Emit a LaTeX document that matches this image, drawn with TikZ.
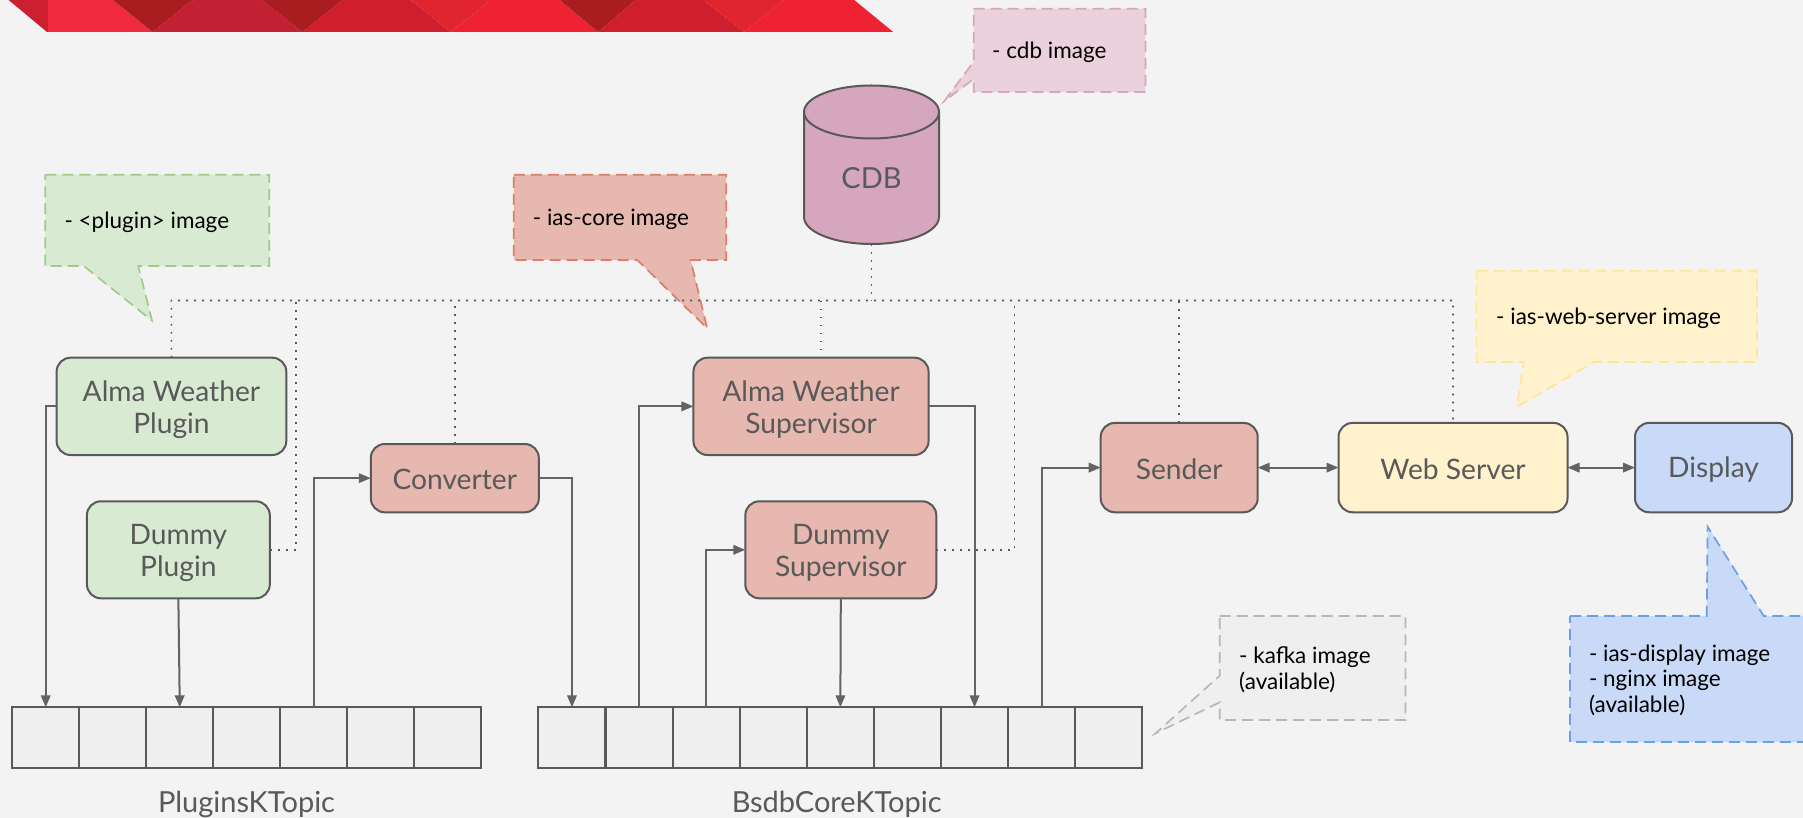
\documentclass[tikz,border=0pt]{standalone}
\usepackage{fontspec}
\setmainfont{Lato}
\usetikzlibrary{arrows.meta,calc}
\newcommand\lowertext[1]{\raisebox{-3pt}[\height][\depth]{#1}}
\newcommand\lowerone[1]{\raisebox{-1.5pt}[\height][\depth]{#1}}
\definecolor{bgc}{HTML}{F3F3F3}
\definecolor{ln}{HTML}{595959}
\definecolor{ln2}{HTML}{636363}
\definecolor{gf}{HTML}{D9EAD3}\definecolor{gb}{HTML}{9FCB8A}
\definecolor{sf}{HTML}{E6B8AF}\definecolor{sb}{HTML}{DD7E6B}
\definecolor{pf}{HTML}{EAD1DC}\definecolor{pb}{HTML}{D5A6BD}
\definecolor{yf}{HTML}{FFF2CC}\definecolor{yb}{HTML}{FFE599}
\definecolor{bf}{HTML}{C9DAF8}\definecolor{bb}{HTML}{6D9EEB}
\definecolor{kf}{HTML}{EFEFEF}\definecolor{kb}{HTML}{B7B7B7}
\definecolor{r1}{HTML}{CC1F2F}\definecolor{r2}{HTML}{EF2A3E}
\definecolor{r3}{HTML}{A91C20}\definecolor{r4}{HTML}{C22033}
\definecolor{r5}{HTML}{CF1F2F}\definecolor{r6}{HTML}{E0252F}
\definecolor{r7}{HTML}{EE2233}
\tikzset{
  box/.style={draw=ln,line width=2pt,rounded corners=14pt,inner sep=0pt,outer sep=0pt,align=center,text=ln,
    font=\fontsize{28.2}{32}\selectfont},
  greenbox/.style={box,fill=gf},
  salmonbox/.style={box,fill=sf},
  cell/.style={draw=ln,line width=2pt,fill=kf,inner sep=0pt,outer sep=0pt,minimum width=67.03pt,minimum height=60.4pt},
  conn/.style={draw=ln2,line width=2pt,-{Triangle[length=12pt,width=9.5pt]}},
  connb/.style={draw=ln2,line width=2pt,{Triangle[length=12pt,width=9.5pt]}-{Triangle[length=12pt,width=9.5pt]}},
  dotline/.style={draw=ln,line width=1.6pt,dash pattern=on 1.8pt off 6.2pt},
  call/.style={line width=1.7pt,dash pattern=on 11pt off 6pt,line join=miter},
  calltext/.style={anchor=west,inner sep=0pt,align=left,text=black,font=\fontsize{22.5}{25.5}\selectfont},
  toplabel/.style={text=ln,inner sep=0pt,font=\fontsize{29}{32}\selectfont},
}
\begin{document}
\begin{tikzpicture}[x=1pt,y=-1pt]
\useasboundingbox (0,0) rectangle (1803,818);
\fill[bgc] (0,0) rectangle (1803,818);
% banner
\fill[r1] (8.6,0) -- (48.2,0) -- (48.2,32) -- (47,32) -- cycle;
\fill[r2] (48.2,0) -- (113,0) -- (152.7,32) -- (48.2,32) -- cycle;
\fill[r3] (113,0) -- (192.9,0) -- (152.7,32) -- cycle;
\fill[r4] (152.7,32) -- (192.9,0) -- (261.8,0) -- (302.5,32) -- cycle;
\fill[r3] (261.8,0) -- (342.7,0) -- (302.5,32) -- cycle;
\fill[r5] (302.5,32) -- (342.7,0) -- (410.4,0) -- (450.6,32) -- cycle;
\fill[r6] (410.4,0) -- (490.8,0) -- (450.6,32) -- cycle;
\fill[r7] (450.6,32) -- (490.8,0) -- (559.7,0) -- (598.2,32) -- cycle;
\fill[r3] (559.7,0) -- (635.5,0) -- (598.2,32) -- cycle;
\fill[r5] (598.2,32) -- (635.5,0) -- (703.2,0) -- (744,32) -- cycle;
\fill[r6] (703.2,0) -- (784.2,0) -- (744,32) -- cycle;
\fill[r7] (744,32) -- (784.2,0) -- (854.2,0) -- (893.2,32) -- cycle;
% callouts
\draw[call,draw=gb,fill=gf] (45.3,174.7) -- (269.2,174.7) -- (269.2,266) -- (138.3,266) -- (152,320.7) -- (83.8,266) -- (45.3,266) -- cycle;
\draw[call,draw=sb,fill=sf] (513.8,174.7) -- (726.2,174.7) -- (726.2,260) -- (690.6,260) -- (707.2,328.3) -- (637.2,260) -- (513.8,260) -- cycle;
\draw[call,draw=pb,fill=pf] (973.7,8.7) -- (1145.4,8.7) -- (1145.4,92) -- (973.7,92) -- (973.7,79) -- (944.4,101) -- (973.7,61.7) -- cycle;
\draw[call,draw=yb,fill=yf] (1476.6,270.7) -- (1757,270.7) -- (1757,362) -- (1594,362) -- (1517,406.7) -- (1523.8,362) -- (1476.6,362) -- cycle;
\draw[call,draw=kb,fill=kf] (1219.7,616) -- (1405.4,616) -- (1405.4,720) -- (1219.7,720) -- (1219.7,702.3) -- (1155.6,733.3) -- (1219.7,675.7) -- cycle;
\draw[call,draw=bb,fill=bf] (1570,616) -- (1706.7,616) -- (1707.6,526.7) -- (1763.7,616) -- (1812,616) -- (1812,742) -- (1570,742) -- cycle;
\node[calltext] (tplugin) at (64.3,222.5) {- <plugin> image};
\node[calltext] (tcore) at (532.7,219.5) {- ias-core image};
\node[calltext] (tcdb) at (992,52.5) {- cdb image};
\node[calltext] (tweb) at (1496,318) {- ias-web-server image};
\node[calltext] (tkafka) at (1239,669.5) {- kafka image\\(available)};
\node[calltext] (tdisp) at (1588.8,680) {- ias-display image\\- nginx image\\(available)};
% cylinder
\draw[draw=ln,line width=2pt,fill=pb] (804,112) -- (804,217) arc[start angle=180,end angle=360,x radius=67.5pt,y radius=27pt] -- (939,112) arc[start angle=0,end angle=180,x radius=67.5pt,y radius=26.5pt] -- cycle;
\draw[draw=ln,line width=2pt] (804,112) arc[start angle=180,end angle=360,x radius=67.5pt,y radius=26.5pt];
\node[toplabel] (cdblabel) at (871.5,178) {CDB};
\coordinate (cdbbottom) at (871.5,244);
% boxes
\node[greenbox,minimum width=229.7pt,minimum height=97.3pt] (awp) at (171.45,406.35) {\lowertext{Alma Weather}\\\lowertext{Plugin}};
\node[greenbox,minimum width=182.9pt,minimum height=97pt] (dp) at (178.35,549.8) {\lowertext{Dummy}\\\lowertext{Plugin}};
\node[salmonbox,minimum width=168pt,minimum height=68.3pt] (conv) at (454.8,478.15) {\lowerone{Converter}};
\node[salmonbox,minimum width=235.1pt,minimum height=97.3pt] (aws) at (811,406.35) {\lowertext{Alma Weather}\\\lowertext{Supervisor}};
\node[salmonbox,minimum width=191pt,minimum height=97pt] (dsv) at (840.8,549.8) {\lowertext{Dummy}\\\lowertext{Supervisor}};
\node[salmonbox,minimum width=157pt,minimum height=89.3pt] (sender) at (1179.2,467.6) {\lowerone{Sender}};
\node[box,fill=yf,minimum width=229pt,minimum height=89.3pt] (web) at (1453,467.6) {\lowerone{Web Server}};
\node[box,fill=bf,minimum width=157pt,minimum height=89.3pt] (disp) at (1713.5,467.6) {\lowerone{Display}};
% queues
\foreach \i in {1,...,7} \node[cell] (qa\i) at ({12.2+67.03*(\i-0.5)},737.5) {};
\foreach \i in {1,...,9} \node[cell] (qb\i) at ({538.4+67.1*(\i-0.5)},737.5) {};
\node[toplabel] (qalabel) at (246.5,804.5) {PluginsKTopic};
\node[toplabel] (qblabel) at (836.7,804.5) {BsdbCoreKTopic};
% dotted bus
\coordinate (busc) at (871.5,300.5);
\coordinate (busl) at (171.4,300.5);
\coordinate (busr) at (1453,300.5);
\coordinate (bdp) at (296,300.5);
\coordinate (bconv) at (454.8,300.5);
\coordinate (baws) at (820.9,300.5);
\coordinate (bdsv) at (1014.5,300.5);
\coordinate (bsen) at (1179.2,300.5);
\draw[dotline] (cdbbottom) -- (busc);
\draw[dotline] (awp.north) -- (busl) -- (busr) -- (web.north);
\draw[dotline] (dp.east) -| (bdp);
\draw[dotline] (conv.north) -- (bconv);
\draw[dotline] (baws) -- (baws |- aws.north);
\draw[dotline] (dsv.east) -| (bdsv);
\draw[dotline] (sender.north) -- (bsen);
% connectors
\draw[conn] (awp.west) -| (qa1.north);
\draw[conn] (dp.south) -- (qa3.north);
\draw[conn] (qa5.north) |- (conv.west);
\draw[conn] (conv.east) -| (qb1.north);
\draw[conn] (qb2.north) |- (aws.west);
\draw[conn] (qb3.north) |- (dsv.west);
\draw[conn] (dsv.south) -- (qb5.north);
\draw[conn] (aws.east) -| (qb7.north);
\draw[conn] (qb8.north) |- (sender.west);
\draw[connb] (sender.east) -- (web.west);
\draw[connb] (web.east) -- (disp.west);
\end{tikzpicture}
\end{document}
